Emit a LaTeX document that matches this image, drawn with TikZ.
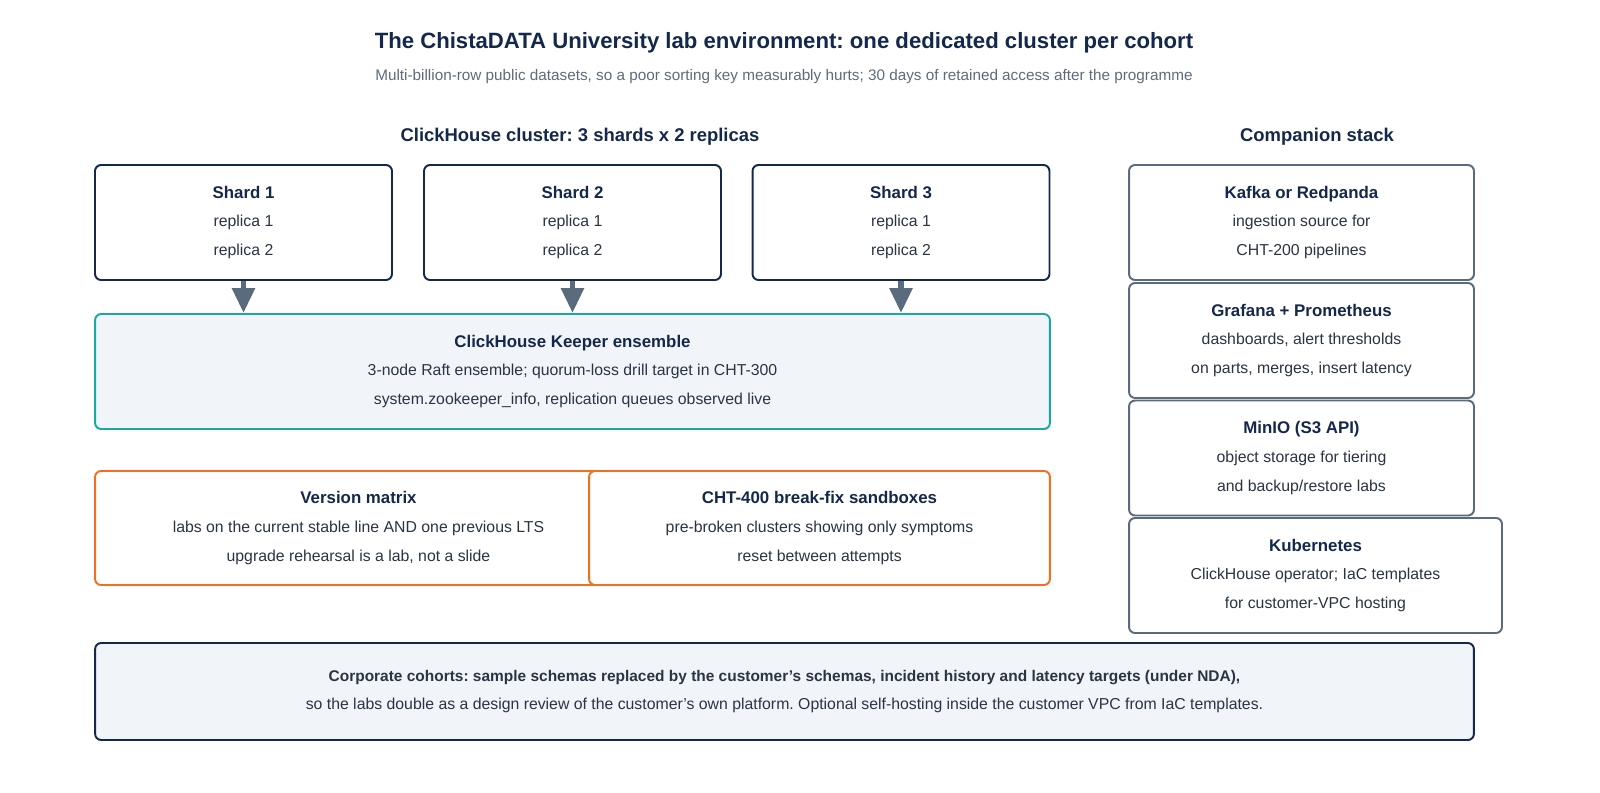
\documentclass[tikz,border=0pt]{standalone}
\usepackage{fontspec}
\setmainfont{Liberation Sans}
\frenchspacing
\usetikzlibrary{arrows.meta,positioning}
\definecolor{navy}{HTML}{14284B}
\definecolor{slate}{HTML}{5A6B7D}
\definecolor{teal}{HTML}{1AA8A0}
\definecolor{orng}{HTML}{F07020}
\definecolor{pale}{HTML}{F1F5F9}
\definecolor{subgray}{HTML}{5F6B7A}
\definecolor{bodytext}{HTML}{2A3443}

\tikzset{
  box/.style={draw, line width=1.1pt, rounded corners=0.12cm, align=center,
    text=bodytext, font=\fontsize{9}{16.4}\selectfont, inner sep=0pt},
  shardbox/.style={box, draw=navy, fill=white, minimum width=5.94cm, minimum height=2.3cm},
  stackbox/.style={box, draw=slate, fill=white, minimum width=6.9cm, minimum height=2.3cm},
  labbox/.style={box, draw=orng, fill=white, minimum height=2.28cm},
  head/.style={text=navy, font=\bfseries\fontsize{10.5}{14}\selectfont},
  feed/.style={draw=slate, line width=3.2pt, -{Triangle[length=0.5cm, width=0.44cm]}}
}
\newcommand{\hd}[1]{\textbf{\fontsize{9.6}{16.4}\selectfont\color{navy}#1}}
\newcommand{\sq}{\char"0027{}}

\begin{document}
\begin{tikzpicture}[x=0.02cm, y=-0.02cm]
  % heading
  \node[text=navy, font=\bfseries\fontsize{12.6}{15}\selectfont] (title) at (784,43)
    {The ChistaDATA University lab environment: one dedicated cluster per cohort};
  \node[text=subgray, font=\fontsize{8.7}{12}\selectfont] (subtitle) at (784,77)
    {Multi-billion-row public datasets, so a poor sorting key measurably hurts; 30 days of retained access after the programme};
  \node[head] (cluster) at (580,137) {ClickHouse cluster: 3 shards x 2 replicas};
  \node[head] (stack) at (1317,137) {Companion stack};

  % shards
  \node[shardbox] (s1) at (243.5,222.5) {\hd{Shard 1}\\replica 1\\replica 2};
  \node[shardbox] (s2) at (572.5,222.5) {\hd{Shard 2}\\replica 1\\replica 2};
  \node[shardbox] (s3) at (901,222.5) {\hd{Shard 3}\\replica 1\\replica 2};

  \node[box, draw=teal, fill=pale, minimum width=19.1cm, minimum height=2.3cm] (keeper) at (572.5,371.5)
    {\hd{ClickHouse Keeper ensemble}\\3-node Raft ensemble; quorum-loss drill target in CHT-300\\system.zookeeper\_info, replication queues observed live};

  \foreach \s in {s1,s2,s3}
    \draw[feed] (\s.south) -- (\s.south |- keeper.north);

  % lab boxes
  \node[labbox, minimum width=10.54cm] (matrix) at (358.5,528)
    {\hd{Version matrix}\\labs on the current stable line AND one previous LTS\\upgrade rehearsal is a lab, not a slide};
  \node[labbox, minimum width=9.22cm] (sandbox) at (819.5,528)
    {\hd{CHT-400 break-fix sandboxes}\\pre-broken clusters showing only symptoms\\reset between attempts};

  % companion stack
  \node[stackbox] (kafka) at (1301.5,222.5) {\hd{Kafka or Redpanda}\\ingestion source for\\CHT-200 pipelines};
  \node[stackbox] (grafana) at (1301.5,340.5) {\hd{Grafana + Prometheus}\\dashboards, alert thresholds\\on parts, merges, insert latency};
  \node[stackbox] (minio) at (1301.5,458) {\hd{MinIO (S3 API)}\\object storage for tiering\\and backup/restore labs};
  \node[stackbox, minimum width=7.46cm] (kube) at (1315.5,575.5) {\hd{Kubernetes}\\ClickHouse operator; IaC templates\\for customer-VPC hosting};

  % corporate note
  \node[box, draw=navy, fill=pale, minimum width=27.58cm, minimum height=1.94cm] (corporate) at (784.5,691.5)
    {\textbf{\fontsize{8.8}{16.4}\selectfont\color{bodytext}Corporate cohorts: sample schemas replaced by the customer\sq s schemas, incident history and latency targets (under NDA),}\\
     so the labs double as a design review of the customer\sq s own platform. Optional self-hosting inside the customer VPC from IaC templates.};

  \pgfresetboundingbox
  \useasboundingbox (0,0) rectangle (1600,792);
\end{tikzpicture}
\end{document}
